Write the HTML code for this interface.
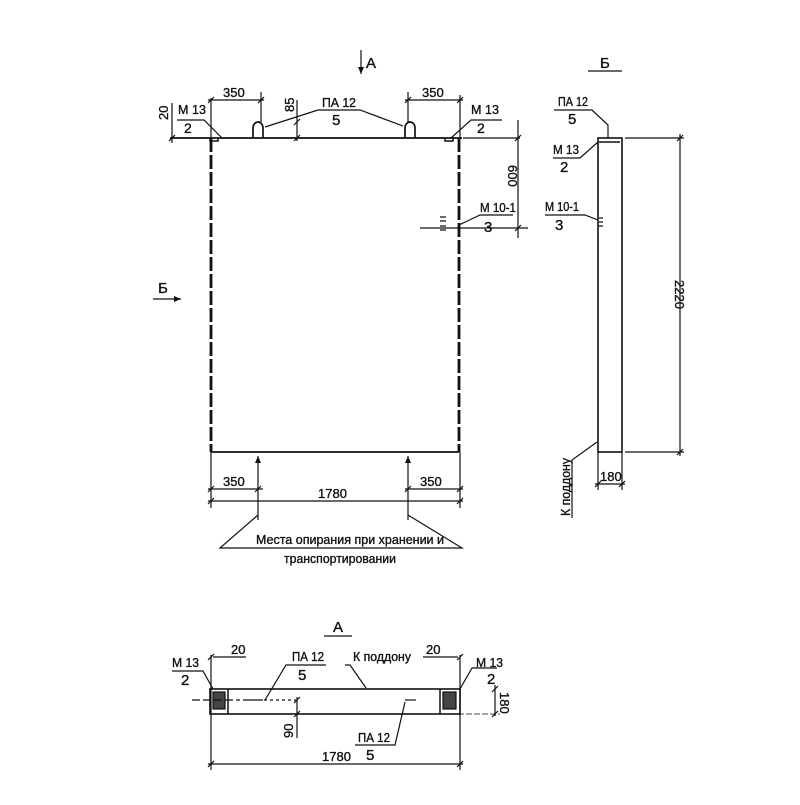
<!DOCTYPE html>
<html><head><meta charset="utf-8"><style>
html,body{margin:0;padding:0;background:#fff}
svg text{font-family:"Liberation Sans Narrow","Liberation Sans",sans-serif;font-size:13px;fill:#111;stroke:#111;stroke-width:0.35}
</style></head><body>
<svg width="800" height="800" viewBox="0 0 800 800" xmlns="http://www.w3.org/2000/svg">
<defs>
<marker id="ar" markerWidth="8" markerHeight="8" refX="7" refY="4" orient="auto" markerUnits="userSpaceOnUse"><path d="M0,1 L7,4 L0,7 Z" fill="#111"/></marker>
</defs>
<g stroke="#111" fill="none" stroke-width="1.2">
<line x1="361" y1="50" x2="361" y2="74" marker-end="url(#ar)"/>
<line x1="153" y1="299" x2="181" y2="299" marker-end="url(#ar)"/>
<line x1="170" y1="138" x2="462" y2="138" stroke-width="1.7"/>
<line x1="211" y1="138" x2="211" y2="452" stroke-width="2.8" stroke-dasharray="14,3"/>
<line x1="459" y1="138" x2="459" y2="452" stroke-width="2.8" stroke-dasharray="14,3"/>
<line x1="211" y1="452" x2="459" y2="452" stroke-width="1.7"/>
<path d="M210,138 v3 h8 v-3 M453,138 v3 h-8 v-3" stroke-width="1.5"/>
<path d="M253,138 V128 a5,6 0 0 1 10,0 V138" stroke-width="1.7"/>
<path d="M405,138 V128 a5,6 0 0 1 10,0 V138" stroke-width="1.7"/>
<line x1="211" y1="98" x2="211" y2="138"/><line x1="261" y1="92" x2="261" y2="122"/>
<line x1="208" y1="100" x2="264" y2="100"/>
<line x1="408" y1="92" x2="408" y2="122"/><line x1="460" y1="95" x2="460" y2="138"/>
<line x1="405" y1="100" x2="463" y2="100"/>
<path d="M208,103 l6,-6 M258,103 l6,-6 M405,103 l6,-6 M457,103 l6,-6"/>
<line x1="172" y1="103" x2="172" y2="143"/>
<path d="M169,141 l6,-6"/>
<line x1="297" y1="100" x2="297" y2="141"/>
<path d="M294,125 l6,-6 M294,141 l6,-6"/>
<polyline points="177,120 204,120 222,138"/>
<polyline points="502,120 471,120 451,138"/>
<polyline points="265,127 318,110 360,110 403,126"/>
<line x1="463" y1="138" x2="520" y2="138"/>
<line x1="518" y1="120" x2="518" y2="238"/>
<path d="M515,141 l6,-6 M515,231 l6,-6"/>
<line x1="420" y1="228" x2="528" y2="228"/>
<polyline points="459,225 480,215 513,215"/>
<path d="M440,217 h6 M440,221 h6 M440,226 h6 M440,230 h6" stroke-width="1.2"/>
<line x1="211" y1="452" x2="211" y2="508"/><line x1="460" y1="452" x2="460" y2="508"/>
<line x1="208" y1="489" x2="263" y2="489"/><line x1="405" y1="489" x2="463" y2="489"/>
<line x1="208" y1="501" x2="463" y2="501"/>
<path d="M208,492 l6,-6 M255,492 l6,-6 M405,492 l6,-6 M457,492 l6,-6 M208,504 l6,-6 M457,504 l6,-6"/>
<line x1="258" y1="520" x2="258" y2="456" marker-end="url(#ar)"/>
<line x1="408" y1="520" x2="408" y2="456" marker-end="url(#ar)"/>
<polyline points="258,515 220,548 462,548 408,515"/>
<rect x="598" y="138" width="24" height="314" stroke-width="1.6"/>
<line x1="599" y1="142" x2="620" y2="142" stroke-width="1.5"/>
<polyline points="554,110 592,110 608,125 608,138"/>
<polyline points="553,158 580,158 598,142"/>
<polyline points="545,215 585,215 598,220"/>
<path d="M599,218 h4 M599,222 h4 M599,226 h4" />
<line x1="625" y1="138" x2="684" y2="138"/>
<line x1="625" y1="452" x2="684" y2="452"/>
<line x1="680" y1="134" x2="680" y2="456"/>
<path d="M677,141 l6,-6 M677,455 l6,-6"/>
<line x1="598" y1="452" x2="598" y2="490"/><line x1="622" y1="452" x2="622" y2="490"/>
<line x1="595" y1="484" x2="625" y2="484"/>
<path d="M595,487 l6,-6 M619,487 l6,-6"/>
<polyline points="572,518 572,460 597,442"/>
<line x1="588" y1="71" x2="622" y2="71"/>
<line x1="324" y1="636" x2="352" y2="636"/>
<rect x="210" y="689" width="250" height="25" stroke-width="1.6"/>
<line x1="228" y1="689" x2="228" y2="714" stroke-width="1.5"/>
<line x1="440" y1="689" x2="440" y2="714" stroke-width="1.5"/>
<rect x="213" y="692" width="12" height="17" fill="#444" stroke="#111"/>
<rect x="443" y="692" width="13" height="17" fill="#444" stroke="#111"/>
<line x1="192" y1="700" x2="240" y2="700" stroke-dasharray="8,3"/>
<line x1="243" y1="700" x2="263" y2="700"/>
<line x1="405" y1="700" x2="416" y2="700"/>
<line x1="264" y1="700" x2="296" y2="700" stroke-dasharray="3,3"/>
<line x1="210" y1="714" x2="500" y2="714" stroke-dasharray="6,2" stroke-width="0.8"/>
<line x1="211" y1="655" x2="211" y2="770"/><line x1="460" y1="655" x2="460" y2="770"/>
<line x1="213" y1="657" x2="246" y2="657"/>
<line x1="423" y1="657" x2="458" y2="657"/>
<path d="M208,660 l6,-6 M457,660 l6,-6"/>
<line x1="208" y1="764" x2="463" y2="764"/>
<path d="M208,767 l6,-6 M457,767 l6,-6"/>
<line x1="297" y1="697" x2="297" y2="738"/>
<path d="M294,703 l6,-6 M294,717 l6,-6"/>
<polyline points="172,671 203,671 213,689"/>
<polyline points="497,668 472,668 460,689"/>
<polyline points="265,700 286,665 326,665"/>
<polyline points="345,665 350,665 366,688"/>
<polyline points="405,702 395,745 355,745"/>
<line x1="495" y1="685" x2="495" y2="716"/>
<path d="M492,692 l6,-6 M492,717 l6,-6"/>
</g>
<g>
<text x="366" y="68" style="font-size:15px">А</text>
<text x="158" y="293" style="font-size:15px">Б</text>
<text x="223" y="97">350</text>
<text x="422" y="97">350</text>
<text x="178" y="114" textLength="28" lengthAdjust="spacingAndGlyphs">М 13</text><text x="184" y="133" style="font-size:14px">2</text>
<text x="471" y="114" textLength="28" lengthAdjust="spacingAndGlyphs">М 13</text><text x="477" y="133" style="font-size:14px">2</text>
<text x="322" y="107" textLength="34" lengthAdjust="spacingAndGlyphs">ПА 12</text><text x="332" y="125" style="font-size:15px">5</text>
<text transform="translate(168,120) rotate(-90)">20</text>
<text transform="translate(294,112) rotate(-90)">85</text>
<text transform="translate(508,165) rotate(90)">600</text>
<text x="480" y="212" textLength="36" lengthAdjust="spacingAndGlyphs">М 10-1</text><text x="484" y="232" style="font-size:15px">3</text>
<text x="223" y="486">350</text><text x="420" y="486">350</text>
<text x="318" y="498">1780</text>
<text x="256" y="544" textLength="188" lengthAdjust="spacingAndGlyphs">Места опирания при хранении и</text>
<text x="284" y="563" textLength="112" lengthAdjust="spacingAndGlyphs">транспортировании</text>
<text x="600" y="68" style="font-size:15px">Б</text>
<text x="558" y="106" textLength="30" lengthAdjust="spacingAndGlyphs">ПА 12</text><text x="568" y="124" style="font-size:15px">5</text>
<text x="553" y="154" textLength="26" lengthAdjust="spacingAndGlyphs">М 13</text><text x="560" y="172" style="font-size:15px">2</text>
<text x="545" y="211" textLength="34" lengthAdjust="spacingAndGlyphs">М 10-1</text><text x="555" y="230" style="font-size:15px">3</text>
<text transform="translate(675,280) rotate(90)">2220</text>
<text x="600" y="481">180</text>
<text transform="translate(570,516) rotate(-90)" textLength="58" lengthAdjust="spacingAndGlyphs">К поддону</text>
<text x="333" y="632" style="font-size:15px">А</text>
<text x="231" y="654">20</text><text x="426" y="654">20</text>
<text x="172" y="667" textLength="27" lengthAdjust="spacingAndGlyphs">М 13</text><text x="181" y="685" style="font-size:15px">2</text>
<text x="476" y="667" textLength="27" lengthAdjust="spacingAndGlyphs">М 13</text><text x="487" y="684" style="font-size:15px">2</text>
<text x="292" y="661" textLength="32" lengthAdjust="spacingAndGlyphs">ПА 12</text><text x="298" y="680" style="font-size:15px">5</text>
<text x="353" y="661" textLength="58" lengthAdjust="spacingAndGlyphs">К поддону</text>
<text transform="translate(293,738) rotate(-90)">90</text>
<text transform="translate(500,692) rotate(90)">180</text>
<text x="358" y="742" textLength="32" lengthAdjust="spacingAndGlyphs">ПА 12</text><text x="366" y="760" style="font-size:15px">5</text>
<text x="322" y="761">1780</text>
</g>
</svg>
</body></html>
